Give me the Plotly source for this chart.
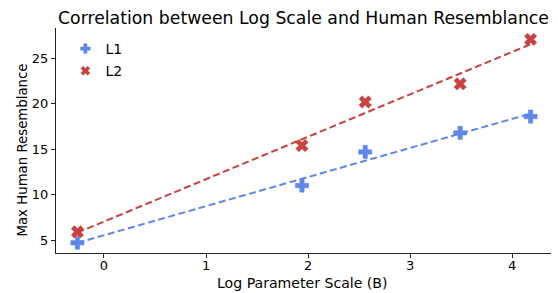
import numpy as np
import plotly.graph_objects as go

log_scale = [-0.26, 1.94, 2.56, 3.49, 4.18]
l1_values = [4.7, 11.0, 14.7, 16.8, 18.6]
l2_values = [5.9, 15.4, 20.2, 22.2, 27.1]
series_names = ["L1", "L2"]
colors = ["#5F87E8", "#C84242"]
symbols = ["cross", "x"]
x_ticks = [0, 1, 2, 3, 4]
y_ticks = [5, 10, 15, 20, 25]

fig = go.Figure()
xs = np.array(log_scale)
for name, vals, col, sym in zip(series_names, [l1_values, l2_values], colors, symbols):
    m, b = np.polyfit(xs, np.array(vals), 1)
    xl = np.array([xs.min(), xs.max()])
    fig.add_trace(go.Scatter(x=xl, y=m * xl + b, mode="lines", showlegend=False,
                             line=dict(color=col, width=2, dash="7px,3.5px"), hoverinfo="skip"))
for name, vals, col, sym in zip(series_names, [l1_values, l2_values], colors, symbols):
    fig.add_trace(go.Scatter(x=log_scale, y=vals, mode="markers", name=name, showlegend=False,
                             marker=dict(symbol=sym, size=11, color=col,
                                         line=dict(width=0.5, color=col))))
# legend entries (smaller markers, as in the reference legend)
for name, col, sym in zip(series_names, colors, symbols):
    fig.add_trace(go.Scatter(x=[None], y=[None], mode="markers", name=name,
                             legendgroup=name,
                             marker=dict(symbol=sym, size=8, color=col,
                                         line=dict(width=0.5, color=col))))

axis_common = dict(showline=True, linecolor="#222", linewidth=1.2, ticks="outside",
                   ticklen=4, tickcolor="#222", showgrid=False, zeroline=False,
                   tickfont=dict(size=13, color="black"), mirror=False, automargin=False)
L, R, T, B = 56, 7, 28, 40
W, H = 558, 293
pw, ph = W - L - R, H - T - B
fig.update_layout(
    width=W, height=H,
    margin=dict(l=L, r=R, t=T, b=B),
    paper_bgcolor="white", plot_bgcolor="white",
    font=dict(family="DejaVu Sans", color="black"),
    title=dict(text="Correlation between Log Scale and Human Resemblance",
               font=dict(size=17.3, color="black"), x=(L + pw / 2) / W, xref="container",
               xanchor="center", y=1 - 18 / H, yref="container", yanchor="middle"),
    xaxis=dict(range=[-0.47, 4.38], tickvals=x_ticks, ticklabelstandoff=-4, **axis_common),
    yaxis=dict(range=[3.57, 28.35], tickvals=y_ticks, **axis_common),
    legend=dict(x=0.019, y=0.978, xanchor="left", yanchor="top", bgcolor="rgba(0,0,0,0)",
                font=dict(size=14), itemwidth=30, traceorder="grouped", tracegroupgap=1),
    annotations=[
        dict(text="Log Parameter Scale (B)", xref="paper", yref="paper",
             x=(302 - L) / pw, y=-(283 - (T + ph)) / ph, xanchor="center", yanchor="middle",
             showarrow=False, font=dict(size=14.1)),
        dict(text="Max Human Resemblance", xref="paper", yref="paper",
             x=-(L - 21.5) / pw, y=(T + ph - 150) / ph, xanchor="center", yanchor="middle",
             textangle=-90, showarrow=False, font=dict(size=13.3)),
    ],
)
fig.write_html("out.html", config={"displayModeBar": False},
               post_script="document.body.style.margin='0';")
